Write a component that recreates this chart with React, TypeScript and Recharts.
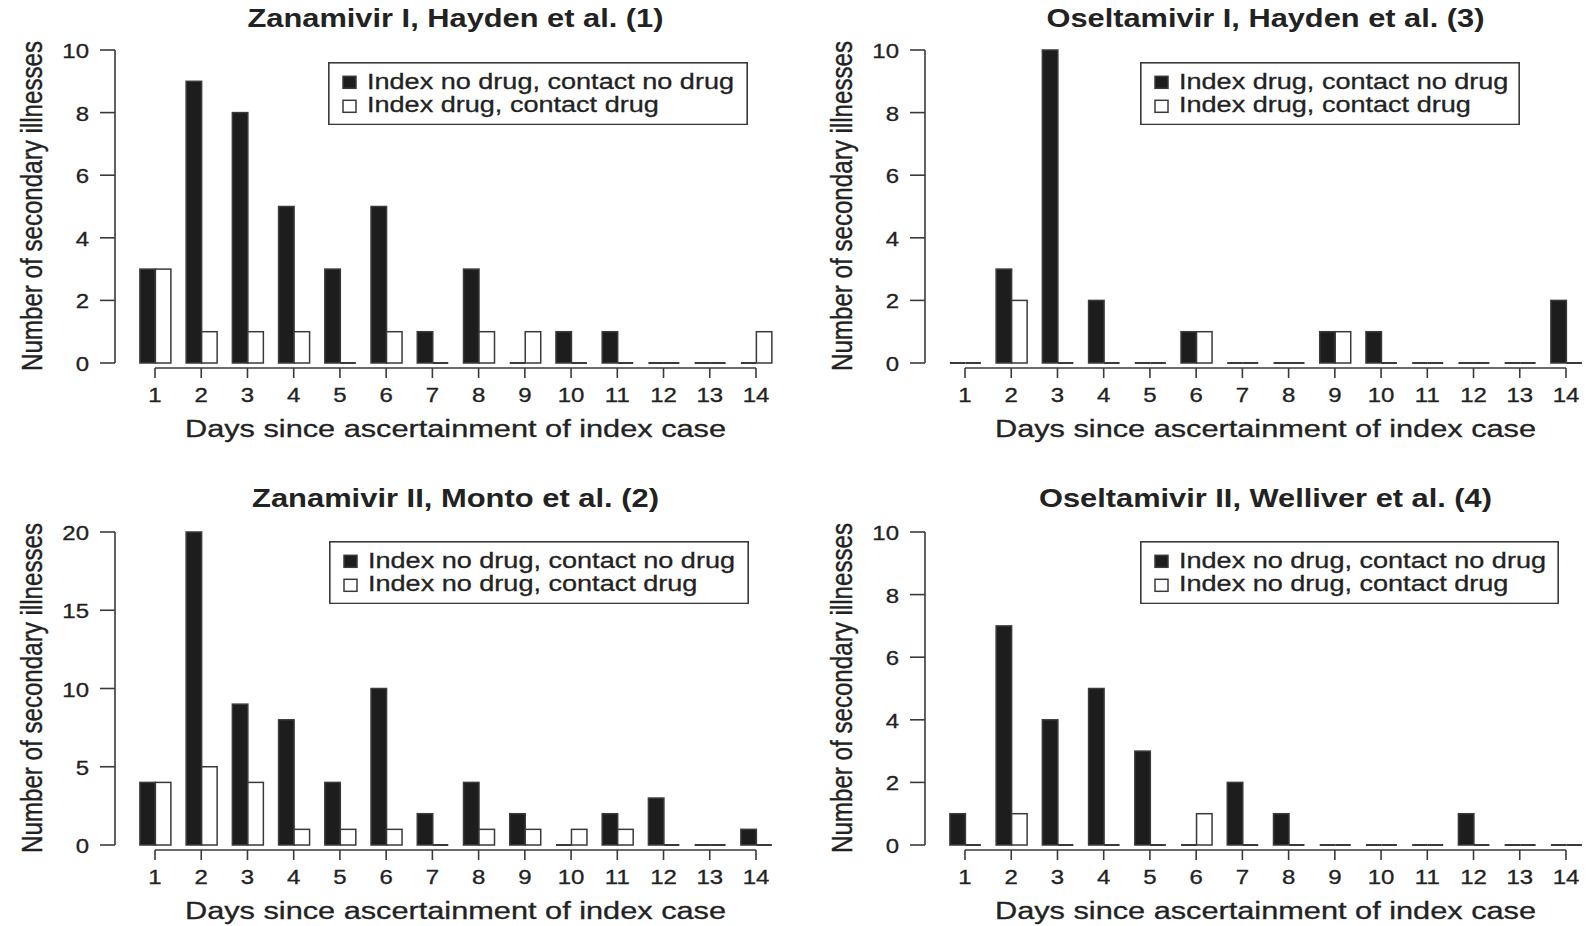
import React from "react"
import { BarChart, Bar, XAxis, YAxis, Legend } from "recharts"

const DAYS = ["1", "2", "3", "4", "5", "6", "7", "8", "9", "10", "11", "12", "13", "14"]

// secondary illnesses per day, black = first legend entry, white = second
const zanamivirINoDrug = [3, 9, 8, 5, 3, 5, 1, 3, 0, 1, 1, 0, 0, 0]
const zanamivirIDrug = [3, 1, 1, 1, 0, 1, 0, 1, 1, 0, 0, 0, 0, 1]
const oseltamivirINoDrug = [0, 3, 10, 2, 0, 1, 0, 0, 1, 1, 0, 0, 0, 2]
const oseltamivirIDrug = [0, 2, 0, 0, 0, 1, 0, 0, 1, 0, 0, 0, 0, 0]
const zanamivirIINoDrug = [4, 20, 9, 8, 4, 10, 2, 4, 2, 0, 2, 3, 0, 1]
const zanamivirIIDrug = [4, 5, 4, 1, 1, 1, 0, 1, 1, 1, 1, 0, 0, 0]
const oseltamivirIINoDrug = [1, 7, 4, 5, 3, 0, 2, 1, 0, 0, 0, 1, 0, 0]
const oseltamivirIIDrug = [0, 1, 0, 0, 0, 1, 0, 0, 0, 0, 0, 0, 0, 0]

const TICKS_10 = [0, 2, 4, 6, 8, 10]
const TICKS_20 = [0, 5, 10, 15, 20]

const TITLES = [
  "Zanamivir I, Hayden et al. (1)",
  "Oseltamivir I, Hayden et al. (3)",
  "Zanamivir II, Monto et al. (2)",
  "Oseltamivir II, Welliver et al. (4)",
]
const LEGEND_LABELS = [
  ["Index no drug, contact no drug", "Index drug, contact drug"],
  ["Index drug, contact no drug", "Index drug, contact drug"],
  ["Index no drug, contact no drug", "Index no drug, contact drug"],
  ["Index no drug, contact no drug", "Index no drug, contact drug"],
]
const X_LABEL = "Days since ascertainment of index case"
const Y_LABEL = "Number of secondary illnesses"

const FONT = "'Liberation Sans', Arial, Helvetica, sans-serif"
const INK = "#222"
const EDGE = "#3a3a3a"
const DARK = "#1d1d1d"
const SX = 1.23

// geometry of one panel (local coords)
const CH_W = 790
const CH_H = 444
const Y_W = 100
const AXIS_X = 115
const PLOT_TOP = 50
const PLOT_BOTTOM = 363
const RANGE_L = 131.9
const RANGE_R = 779.1
const X_H = 80
const BAND = (RANGE_R - RANGE_L) / DAYS.length
const LEG_H = 63.3

const panels = [
  { left: 0, top: 0, titleW: 416, titleY: 27.3, yMax: 10, ticks: TICKS_10, a: zanamivirINoDrug, b: zanamivirIDrug, leg: { x: 328, y: 61.7, w: 420 } },
  { left: 810, top: 0, titleW: 438, titleY: 27.3, yMax: 10, ticks: TICKS_10, a: oseltamivirINoDrug, b: oseltamivirIDrug, leg: { x: 330, y: 61.7, w: 380 } },
  { left: 0, top: 482, titleW: 407, titleY: 24.5, yMax: 20, ticks: TICKS_20, a: zanamivirIINoDrug, b: zanamivirIIDrug, leg: { x: 328.5, y: 58.5, w: 420 } },
  { left: 810, top: 482, titleW: 453, titleY: 24.5, yMax: 10, ticks: TICKS_10, a: oseltamivirIINoDrug, b: oseltamivirIIDrug, leg: { x: 330, y: 58.5, w: 419 } },
]

function BarShape(props: any) {
  const { x, y, width, height, fill } = props
  if (!height) {
    return <line x1={x} x2={x + width} y1={y} y2={y} stroke={EDGE} strokeWidth={2} />
  }
  return <rect x={x} y={y} width={width} height={height} fill={fill} stroke={EDGE} strokeWidth={1.5} />
}

function XTick(props: any) {
  const { x, y, index, payload } = props
  return (
    <g>
      {index === 0 && (
        <line x1={x} x2={x + BAND * (DAYS.length - 1)} y1={y + 5} y2={y + 5} stroke={EDGE} strokeWidth={1.6} />
      )}
      <line x1={x} x2={x} y1={y + 5} y2={y + 15} stroke={EDGE} strokeWidth={1.6} />
      <text
        transform={`translate(${x},${y + 39}) scale(${SX},1)`}
        textAnchor="middle"
        fontSize={19.5}
        fontFamily={FONT}
        fill={INK}
        stroke={INK}
        strokeWidth={0.3}
      >
        {payload.value}
      </text>
    </g>
  )
}

function YTick(props: any) {
  const { x, y, payload } = props
  return (
    <text
      transform={`translate(${x},${y + 8}) scale(${SX},1)`}
      textAnchor="end"
      fontSize={19.5}
      fontFamily={FONT}
      fill={INK}
      stroke={INK}
      strokeWidth={0.3}
    >
      {payload.value}
    </text>
  )
}

function LegendBox({ payload, w }: any) {
  const items = [...(payload || [])].sort((m: any, n: any) => String(m.dataKey).localeCompare(String(n.dataKey)))
  return (
    <svg width={w} height={LEG_H} style={{ display: "block" }}>
      <rect x={0.8} y={0.8} width={w - 1.6} height={LEG_H - 1.6} fill="#fff" stroke={EDGE} strokeWidth={1.6} />
      {items.map((e: any, i: number) => (
        <g key={i}>
          <rect x={15} y={14.3 + i * 24} width={13} height={12} fill={e.color} stroke={EDGE} strokeWidth={1.5} />
          <text
            transform={`translate(39,${26.6 + i * 23.4}) scale(${SX},1)`}
            fontSize={22}
            fontFamily={FONT}
            fill={INK}
            stroke={INK}
            strokeWidth={0.3}
          >
            {e.value}
          </text>
        </g>
      ))}
    </svg>
  )
}

function Panel({ p, i }: { p: (typeof panels)[number]; i: number }) {
  const data = DAYS.map((day, k) => ({ day, a: p.a[k], b: p.b[k] }))
  const centre = (RANGE_L + BAND / 2 + RANGE_R - BAND / 2) / 2
  return (
    <>
      <div style={{ position: "absolute", left: p.left, top: p.top }}>
        <BarChart
          width={CH_W}
          height={CH_H}
          data={data}
          barGap={0}
          barSize={15.5}
          margin={{ top: PLOT_TOP, right: CH_W - RANGE_R, bottom: CH_H - PLOT_BOTTOM - X_H, left: AXIS_X - Y_W }}
        >
          <XAxis
            dataKey="day"
            type="category"
            height={X_H}
            padding={{ left: RANGE_L - AXIS_X, right: 0 }}
            axisLine={false}
            tickLine={false}
            tickSize={0}
            tickMargin={0}
            interval={0}
            tick={<XTick />}
          />
          <YAxis
            type="number"
            width={Y_W}
            domain={[0, p.yMax]}
            ticks={p.ticks}
            interval={0}
            axisLine={{ stroke: EDGE, strokeWidth: 1.6 }}
            tickLine={{ stroke: EDGE, strokeWidth: 1.6 }}
            tickSize={15}
            tickMargin={11}
            tick={<YTick />}
          />
          <Legend
            layout="horizontal"
            verticalAlign="middle"
            align="center"
            itemSorter="dataKey"
            wrapperStyle={{ left: p.leg.x, top: p.leg.y, width: p.leg.w, height: LEG_H, margin: 0, padding: 0 }}
            content={(props: any) => <LegendBox payload={props.payload} w={p.leg.w} />}
          />
          <Bar dataKey="a" name={LEGEND_LABELS[i][0]} fill={DARK} shape={BarShape} isAnimationActive={false} />
          <Bar dataKey="b" name={LEGEND_LABELS[i][1]} fill="#ffffff" shape={BarShape} isAnimationActive={false} />
        </BarChart>
      </div>
      <svg
        width={CH_W}
        height={CH_H}
        style={{ position: "absolute", left: p.left, top: p.top, pointerEvents: "none" }}
      >
        <text
          x={centre}
          y={p.titleY}
          textAnchor="middle"
          fontSize={25}
          fontWeight={700}
          fontFamily={FONT}
          fill={INK}
          textLength={p.titleW}
          lengthAdjust="spacingAndGlyphs"
        >
          {TITLES[i]}
        </text>
        <text
          x={centre}
          y={436.7}
          textAnchor="middle"
          fontSize={23}
          fontFamily={FONT}
          fill={INK}
          stroke={INK}
          strokeWidth={0.3}
          textLength={541}
          lengthAdjust="spacingAndGlyphs"
        >
          {X_LABEL}
        </text>
        <text
          transform={`translate(41.5,206) scale(1.3,1) rotate(-90)`}
          textAnchor="middle"
          fontSize={22.5}
          fontFamily={FONT}
          fill={INK}
          stroke={INK}
          strokeWidth={0.3}
          textLength={330}
          lengthAdjust="spacingAndGlyphs"
        >
          {Y_LABEL}
        </text>
      </svg>
    </>
  )
}

export default function App() {
  return (
    <div
      style={{
        position: "absolute",
        left: 0,
        top: 0,
        width: 1586,
        height: 926,
        overflow: "hidden",
        background: "#fff",
      }}
    >
      {panels.map((p, i) => (
        <Panel key={i} p={p} i={i} />
      ))}
    </div>
  )
}
